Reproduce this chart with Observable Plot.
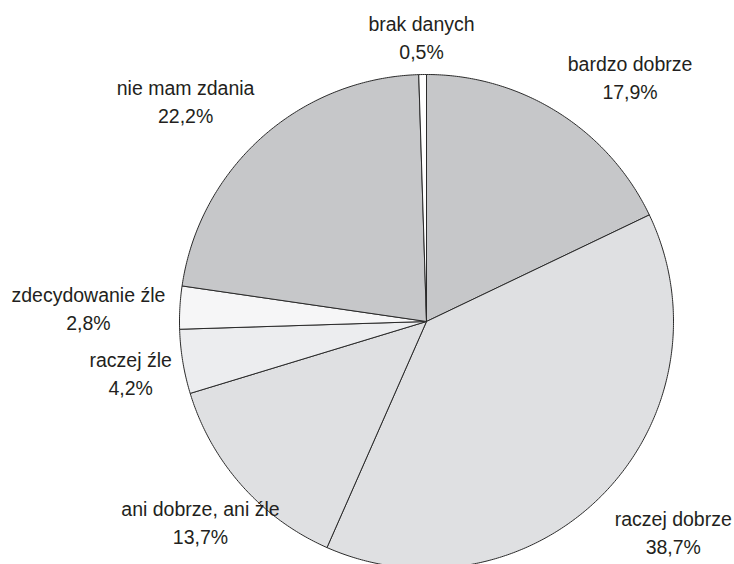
<!DOCTYPE html>
<html>
<head>
<meta charset="utf-8">
<script src="https://cdn.jsdelivr.net/npm/d3@7"></script>
<script src="https://cdn.jsdelivr.net/npm/@observablehq/plot@0.6"></script>
<style>
  html, body { margin: 0; padding: 0; background: #fff; }
  #chart svg { display: block; }
</style>
</head>
<body>
<div id="chart"></div>
<script>
// Data
const categories = ["bardzo dobrze", "raczej dobrze", "ani dobrze, ani źle", "raczej źle", "zdecydowanie źle", "nie mam zdania", "brak danych"];
const values = [17.9, 38.7, 13.7, 4.2, 2.8, 22.2, 0.5];
const sliceColors = ["#c6c7c9", "#dfe0e2", "#dfe0e2", "#ecedef", "#f6f6f7", "#c6c7c9", "#ffffff"];

// Label placement (polar: degrees clockwise from top, radius as fraction of pie radius)
const labelAngles = [39.7, 130.3, 228.6, 260.3, 272.5, 312.6, 359.0];
const labelRadii = [1.29, 1.31, 1.22, 1.215, 1.37, 1.325, 1.156];

const W = 734, H = 564;
const cx = 426, cy = 321, R = 247;

const total = d3.sum(values);
let acc = 0;
const slices = categories.map((c, i) => {
  const a0 = acc / total * 360;
  acc += values[i];
  const a1 = acc / total * 360;
  const pts = [{x: 0, y: 0}];
  const n = Math.max(2, Math.ceil((a1 - a0) / 0.5));
  for (let k = 0; k <= n; k++) {
    const a = (a0 + (a1 - a0) * k / n) * Math.PI / 180;
    pts.push({x: Math.sin(a), y: Math.cos(a)});
  }
  pts.push({x: 0, y: 0});
  return {cat: c, pts, color: sliceColors[i]};
});

const fmt = v => v.toFixed(1).replace(".", ",") + "%";
const labels = categories.map((c, i) => {
  const a = labelAngles[i] * Math.PI / 180;
  return {x: labelRadii[i] * Math.sin(a), y: labelRadii[i] * Math.cos(a), text: c + "\n" + fmt(values[i])};
});

const chart = Plot.plot({
  width: W,
  height: H,
  margin: 0,
  x: {type: "linear", domain: [-cx / R, (W - cx) / R], range: [0, W], axis: null},
  y: {type: "linear", domain: [-(H - cy) / R, cy / R], range: [H, 0], axis: null},
  style: {fontFamily: "'Liberation Sans', Arial, sans-serif", background: "#fff"},
  marks: [
    ...slices.map(s => Plot.line(s.pts, {
      x: "x", y: "y", fill: s.color, stroke: "#2a2a2a", strokeWidth: 1,
      strokeLinejoin: "round", curve: "linear"
    })),
    Plot.text(labels, {
      x: "x", y: "y", text: "text", fontSize: 19.5, lineHeight: 1.44,
      fill: "#231f20", textAnchor: "middle"
    })
  ]
});
document.getElementById("chart").appendChild(chart);
</script>
</body>
</html>
